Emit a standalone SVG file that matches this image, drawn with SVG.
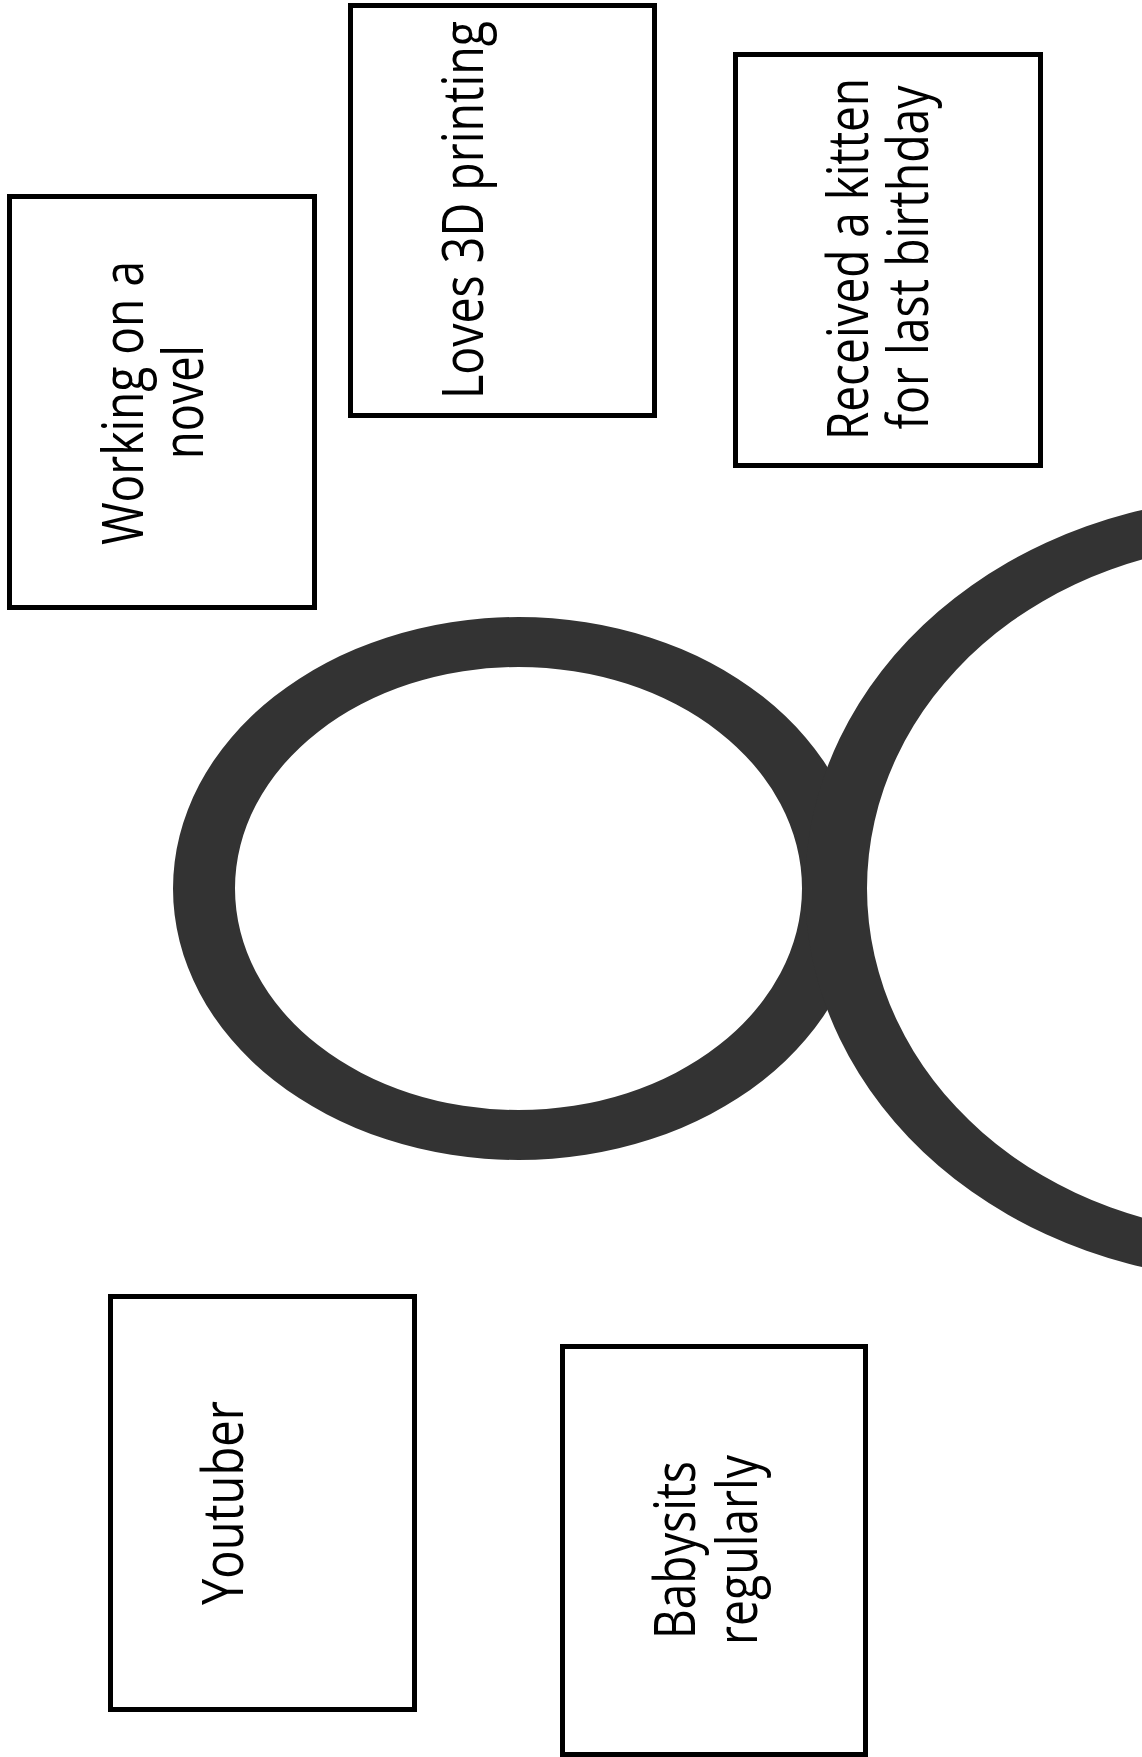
<svg xmlns="http://www.w3.org/2000/svg" width="1142" height="1757" viewBox="0 0 1142 1757">
  <style>
    .box { fill: #ffffff; stroke: #000000; stroke-width: 5; }
    .lbl { font-family: "Open Sans", "Noto Sans", "Liberation Sans", sans-serif; font-size: 46px; fill: #000000; text-anchor: middle; }
    .ring { fill: #333333; fill-rule: evenodd; stroke: none; }
  </style>
  <rect width="1142" height="1757" fill="#ffffff"/>

  <g id="rings">
    <path class="ring" d="M 173,888.5 A 345.5,271.5 0 1,0 864,888.5 A 345.5,271.5 0 1,0 173,888.5 Z M 235,888.5 A 283.5,221.5 0 1,0 802,888.5 A 283.5,221.5 0 1,0 235,888.5 Z"/>
    <path class="ring" d="M 805,888.5 A 456,392 0 1,0 1717,888.5 A 456,392 0 1,0 805,888.5 Z M 867,888.5 A 394,345 0 1,0 1655,888.5 A 394,345 0 1,0 867,888.5 Z"/>
  </g>

  <g id="connectors"></g>

  <g id="node-novel">
    <rect class="box" x="9.5" y="196.5" width="305" height="411"/>
    <text class="lbl" transform="translate(143,403) rotate(-90) scale(1,1.24)" x="0" y="0" textLength="284" lengthAdjust="spacingAndGlyphs">Working on a</text>
    <text class="lbl" transform="translate(203,402) rotate(-90) scale(1,1.24)" x="0" y="0" textLength="114" lengthAdjust="spacingAndGlyphs">novel</text>
  </g>

  <g id="node-3d">
    <rect class="box" x="350.5" y="5.5" width="304" height="410"/>
    <text class="lbl" transform="translate(483,210) rotate(-90) scale(1,1.24)" x="0" y="0" textLength="378" lengthAdjust="spacingAndGlyphs">Loves 3D printing</text>
  </g>

  <g id="node-kitten">
    <rect class="box" x="735.5" y="54.5" width="305" height="411"/>
    <text class="lbl" transform="translate(868,259) rotate(-90) scale(1,1.24)" x="0" y="0" textLength="362" lengthAdjust="spacingAndGlyphs">Received a kitten</text>
    <text class="lbl" transform="translate(928,257.5) rotate(-90) scale(1,1.24)" x="0" y="0" textLength="344" lengthAdjust="spacingAndGlyphs">for last birthday</text>
  </g>

  <g id="node-youtuber">
    <rect class="box" x="110.5" y="1296.5" width="304" height="413"/>
    <text class="lbl" transform="translate(243,1503) rotate(-90) scale(1,1.24)" x="0" y="0" textLength="204" lengthAdjust="spacingAndGlyphs">Youtuber</text>
  </g>

  <g id="node-babysits">
    <rect class="box" x="562.5" y="1346.5" width="303" height="408"/>
    <text class="lbl" transform="translate(695,1550) rotate(-90) scale(1,1.24)" x="0" y="0" textLength="178" lengthAdjust="spacingAndGlyphs">Babysits</text>
    <text class="lbl" transform="translate(757,1550) rotate(-90) scale(1,1.24)" x="0" y="0" textLength="190" lengthAdjust="spacingAndGlyphs">regularly</text>
  </g>
</svg>
